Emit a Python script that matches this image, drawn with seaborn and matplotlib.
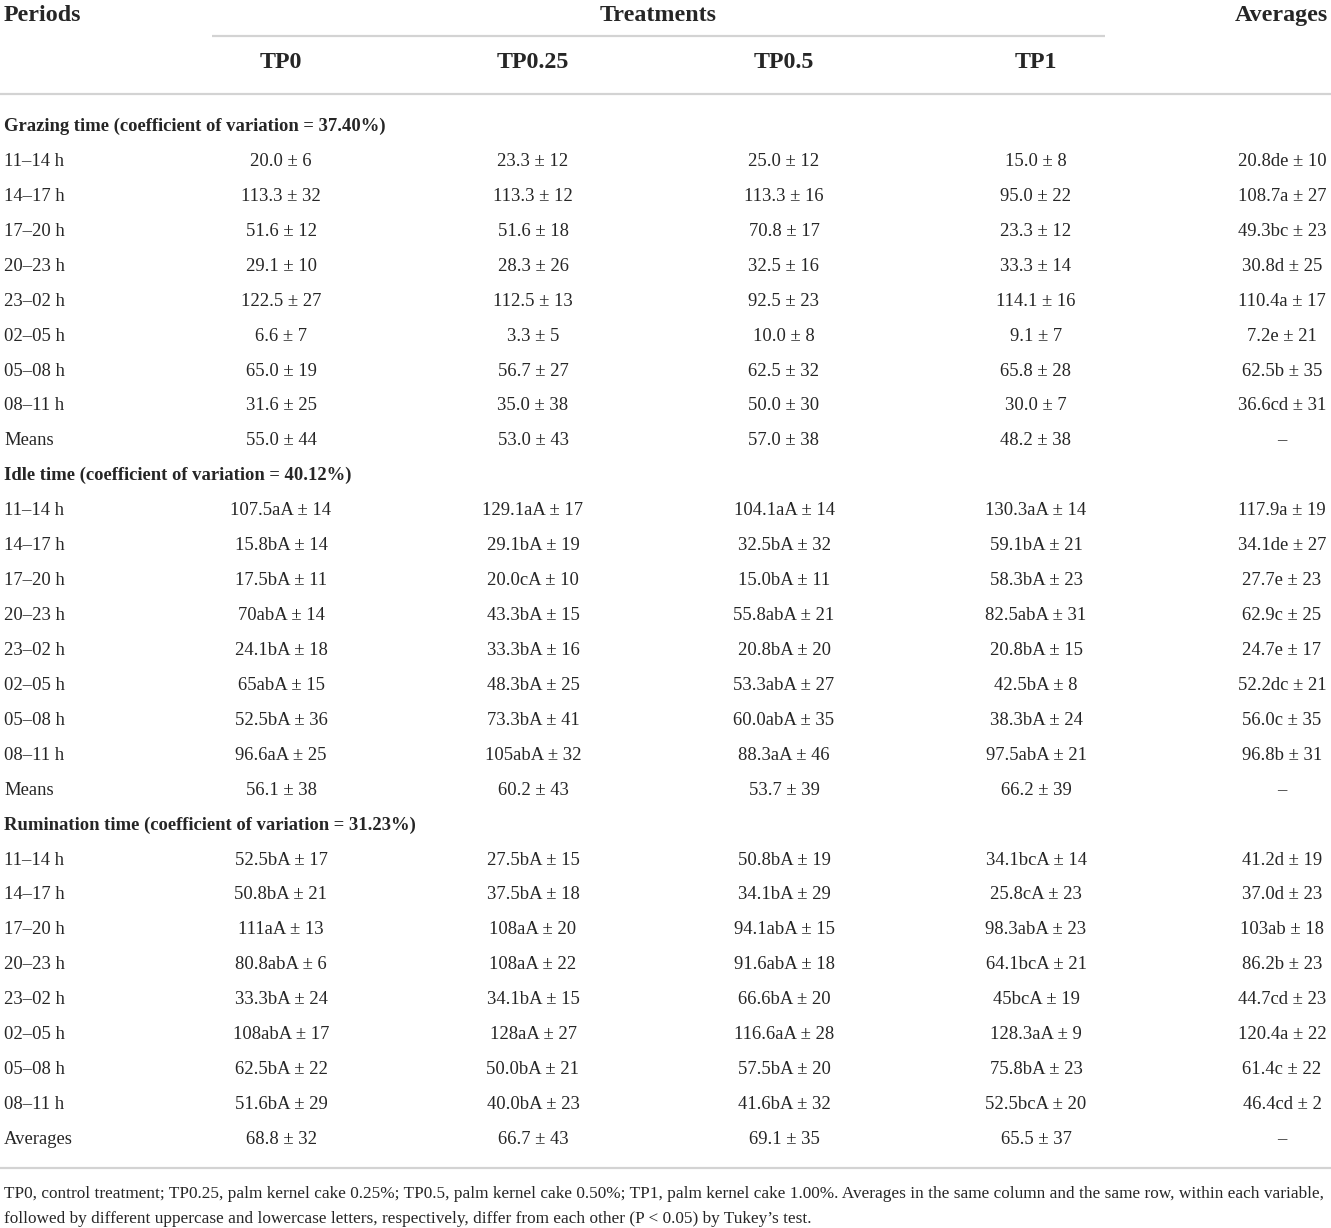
import matplotlib
matplotlib.use("Agg")
import matplotlib.pyplot as plt
import seaborn as sns

sns.set_theme(style="white")
plt.rcParams["font.family"] = ["Liberation Serif", "DejaVu Serif"]

# Table contents
treatments = ["TP0", "TP0.25", "TP0.5", "TP1"]
periods = ["11–14 h", "14–17 h", "17–20 h", "20–23 h", "23–02 h", "02–05 h", "05–08 h", "08–11 h"]

grazing_title = "Grazing time (coefficient of variation = 37.40%)"
grazing_tp0 = ["20.0 ± 6", "113.3 ± 32", "51.6 ± 12", "29.1 ± 10", "122.5 ± 27", "6.6 ± 7", "65.0 ± 19", "31.6 ± 25", "55.0 ± 44"]
grazing_tp025 = ["23.3 ± 12", "113.3 ± 12", "51.6 ± 18", "28.3 ± 26", "112.5 ± 13", "3.3 ± 5", "56.7 ± 27", "35.0 ± 38", "53.0 ± 43"]
grazing_tp05 = ["25.0 ± 12", "113.3 ± 16", "70.8 ± 17", "32.5 ± 16", "92.5 ± 23", "10.0 ± 8", "62.5 ± 32", "50.0 ± 30", "57.0 ± 38"]
grazing_tp1 = ["15.0 ± 8", "95.0 ± 22", "23.3 ± 12", "33.3 ± 14", "114.1 ± 16", "9.1 ± 7", "65.8 ± 28", "30.0 ± 7", "48.2 ± 38"]
grazing_avg = ["20.8de ± 10", "108.7a ± 27", "49.3bc ± 23", "30.8d ± 25", "110.4a ± 17", "7.2e ± 21", "62.5b ± 35", "36.6cd ± 31", "–"]

idle_title = "Idle time (coefficient of variation = 40.12%)"
idle_tp0 = ["107.5aA ± 14", "15.8bA ± 14", "17.5bA ± 11", "70abA ± 14", "24.1bA ± 18", "65abA ± 15", "52.5bA ± 36", "96.6aA ± 25", "56.1 ± 38"]
idle_tp025 = ["129.1aA ± 17", "29.1bA ± 19", "20.0cA ± 10", "43.3bA ± 15", "33.3bA ± 16", "48.3bA ± 25", "73.3bA ± 41", "105abA ± 32", "60.2 ± 43"]
idle_tp05 = ["104.1aA ± 14", "32.5bA ± 32", "15.0bA ± 11", "55.8abA ± 21", "20.8bA ± 20", "53.3abA ± 27", "60.0abA ± 35", "88.3aA ± 46", "53.7 ± 39"]
idle_tp1 = ["130.3aA ± 14", "59.1bA ± 21", "58.3bA ± 23", "82.5abA ± 31", "20.8bA ± 15", "42.5bA ± 8", "38.3bA ± 24", "97.5abA ± 21", "66.2 ± 39"]
idle_avg = ["117.9a ± 19", "34.1de ± 27", "27.7e ± 23", "62.9c ± 25", "24.7e ± 17", "52.2dc ± 21", "56.0c ± 35", "96.8b ± 31", "–"]

rum_title = "Rumination time (coefficient of variation = 31.23%)"
rum_tp0 = ["52.5bA ± 17", "50.8bA ± 21", "111aA ± 13", "80.8abA ± 6", "33.3bA ± 24", "108abA ± 17", "62.5bA ± 22", "51.6bA ± 29", "68.8 ± 32"]
rum_tp025 = ["27.5bA ± 15", "37.5bA ± 18", "108aA ± 20", "108aA ± 22", "34.1bA ± 15", "128aA ± 27", "50.0bA ± 21", "40.0bA ± 23", "66.7 ± 43"]
rum_tp05 = ["50.8bA ± 19", "34.1bA ± 29", "94.1abA ± 15", "91.6abA ± 18", "66.6bA ± 20", "116.6aA ± 28", "57.5bA ± 20", "41.6bA ± 32", "69.1 ± 35"]
rum_tp1 = ["34.1bcA ± 14", "25.8cA ± 23", "98.3abA ± 23", "64.1bcA ± 21", "45bcA ± 19", "128.3aA ± 9", "75.8bA ± 23", "52.5bcA ± 20", "65.5 ± 37"]
rum_avg = ["41.2d ± 19", "37.0d ± 23", "103ab ± 18", "86.2b ± 23", "44.7cd ± 23", "120.4a ± 22", "61.4c ± 22", "46.4cd ± 2", "–"]

footnote = [
    "TP0, control treatment; TP0.25, palm kernel cake 0.25%; TP0.5, palm kernel cake 0.50%; TP1, palm kernel cake 1.00%. "
    "Averages in the same column and the same row, within each variable,",
    "followed by different uppercase and lowercase letters, respectively, differ from each other (P < 0.05) by Tukey’s test.",
]

sections = [
    (grazing_title, "Means", [grazing_tp0, grazing_tp025, grazing_tp05, grazing_tp1, grazing_avg]),
    (idle_title, "Means", [idle_tp0, idle_tp025, idle_tp05, idle_tp1, idle_avg]),
    (rum_title, "Averages", [rum_tp0, rum_tp025, rum_tp05, rum_tp1, rum_avg]),
]

# Layout (pixel units, text placed on its baseline)
W, H = 1331, 1228
col_x = [281, 533, 784, 1036, 1282]
first_base = 131.0
row_h = 34.93
line_col = "#d3d3d3"
body_fs = 13.4
head_fs = 17.3
foot_fs = 12.45

fig = plt.figure(figsize=(W / 100, H / 100), dpi=100)
ax = fig.add_axes([0, 0, 1, 1])
ax.set_xlim(0, W)
ax.set_ylim(H, 0)
ax.axis("off")

# header
ax.text(4, 21, "Periods", fontsize=head_fs, fontweight="bold", ha="left", va="baseline")
ax.text(658, 21, "Treatments", fontsize=head_fs, fontweight="bold", ha="center", va="baseline")
ax.text(1328, 21, "Averages", fontsize=head_fs, fontweight="bold", ha="right", va="baseline")
for x, t in zip(col_x, treatments):
    ax.text(x, 68, t, fontsize=head_fs, fontweight="bold", ha="center", va="baseline")
ax.plot([212, 1105], [36, 36], color=line_col, lw=1.6, solid_capstyle="butt")
ax.plot([0, W], [94, 94], color=line_col, lw=1.6, solid_capstyle="butt")

k = 0
for title, last_label, cols in sections:
    ax.text(4, first_base + k * row_h, title, fontsize=body_fs, fontweight="bold",
            ha="left", va="baseline")
    k += 1
    labels = periods + [last_label]
    for i, lab in enumerate(labels):
        yb = first_base + k * row_h
        ax.text(4, yb, lab, fontsize=body_fs, ha="left", va="baseline")
        for x, col in zip(col_x, cols):
            ax.text(x, yb, col[i], fontsize=body_fs, ha="center", va="baseline")
        k += 1

ax.plot([0, W], [1168, 1168], color=line_col, lw=1.6, solid_capstyle="butt")
ax.text(4, 1198, footnote[0], fontsize=foot_fs, ha="left", va="baseline")
ax.text(4, 1223, footnote[1], fontsize=foot_fs, ha="left", va="baseline")

fig.savefig("out.png", dpi=100, facecolor="white")
